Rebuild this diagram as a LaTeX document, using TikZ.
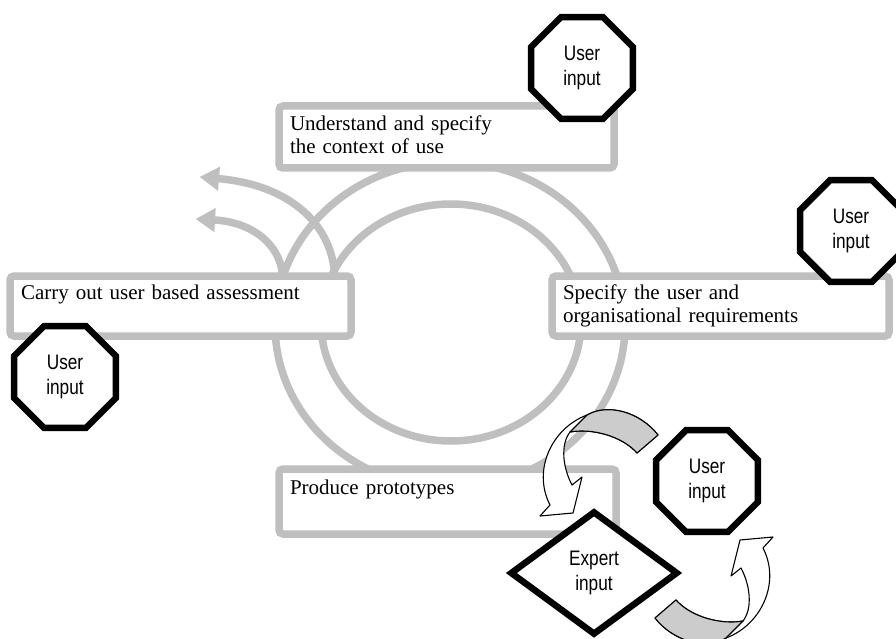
\documentclass[tikz,border=0pt]{standalone}
\usepackage{fontspec}
\setmainfont{Liberation Serif}
\newfontfamily\narrowsans[FakeStretch=0.82]{Liberation Sans}
\usepackage{xcolor}
\usepackage{tikz}
\usetikzlibrary{shapes.geometric, arrows.meta}

\definecolor{ringgray}{RGB}{191,191,191}
\definecolor{bandgray}{RGB}{204,204,204}

\begin{document}
\begin{tikzpicture}[
    x=1pt, y=-1pt,
    ring/.style={draw=ringgray, line width=7.5pt},
    back/.style={
      draw=ringgray, line width=7.5pt,
      -{Triangle[length=19pt, width=24pt, line width=0.01pt]}
    },
    stage/.style={
      rectangle, rounded corners=4pt,
      draw=ringgray, line width=7.5pt,
      fill=white, align=left,
      inner xsep=11pt, inner ysep=2pt,
      font=\fontsize{21}{23}\selectfont
    },
    userin/.style={
      regular polygon, regular polygon sides=8,
      draw=black, line width=6.5pt, fill=white,
      minimum size=110pt, inner sep=0pt, align=center,
      font=\narrowsans\fontsize{21}{25}\selectfont
    },
    expertin/.style={
      diamond, draw=black, line width=6.5pt, fill=white,
      minimum width=168pt, minimum height=124pt,
      inner sep=0pt, align=center,
      font=\narrowsans\fontsize{21}{25}\selectfont
    },
    band/.style={draw=black, line width=1.1pt, line join=round}
  ]
    \useasboundingbox (0,0) rectangle (896,639);
    \clip (0,0) rectangle (896,639);

    % the two rings of the cycle
    \draw[ring] (450,325) ellipse [x radius=175pt, y radius=163pt];
    \draw[ring] (451,322.5) ellipse [x radius=130pt, y radius=118.5pt];

    % iterations leaving the assessment stage
    \coordinate (outerfoot) at (283,282);
    \coordinate (innerfoot) at (335,282);
    \coordinate (outertip) at (196,219);
    \coordinate (innertip) at (200,177);
    \draw[back] (innerfoot) .. controls (335,225) and (290,185) .. (innertip);
    \draw[back] (outerfoot) .. controls (283,243) and (250,222) .. (outertip);

    \node[stage, text width=313pt, minimum height=62pt] (context) at (446.5,137) {
      \strut Understand and specify\\
      the context of use\strut
    };
    \node[stage, text width=319pt, minimum height=60pt] (assess) at (180.5,306) {
      \strut Carry out user based assessment\\
      \strut
    };
    \node[stage, text width=315pt, minimum height=60pt] (require) at (720.5,306) {
      \strut Specify the user and\\
      organisational requirements\strut
    };
    \node[stage, text width=315pt, minimum height=65pt] (proto) at (447.5,501.5) {
      \strut Produce prototypes\\
      \strut
    };

    \node[userin] (userctx) at (582,68) {User\\input};
    \node[userin] (userreq) at (851,231) {User\\input};
    \node[userin] (userass) at (65,377) {User\\input};
    \node[userin] (userproto) at (707,481) {User\\input};
    \node[expertin] (expert) at (594,573) {Expert\\input};

    % twisted block arrows between the prototype inputs
    \foreach \turn in {0,180}{
      \begin{scope}[rotate around={\turn:(656.5,526.5)}]
        \filldraw[band, fill=white] (658,435) .. controls (640,412) and (608,403) .. (587,415)
          .. controls (552,428) and (532,470) .. (550,505)
          -- (540,516) -- (573,513) -- (582,477) -- (572,485)
          .. controls (563,468) and (560,445) .. (570,432)
          .. controls (592,428) and (622,436) .. (637,453) -- cycle;
        \filldraw[band, fill=bandgray] (658,435) .. controls (640,412) and (608,403) .. (587,415)
          -- (570,432) .. controls (592,428) and (622,436) .. (637,453) -- cycle;
      \end{scope}
    }
\end{tikzpicture}
\end{document}
